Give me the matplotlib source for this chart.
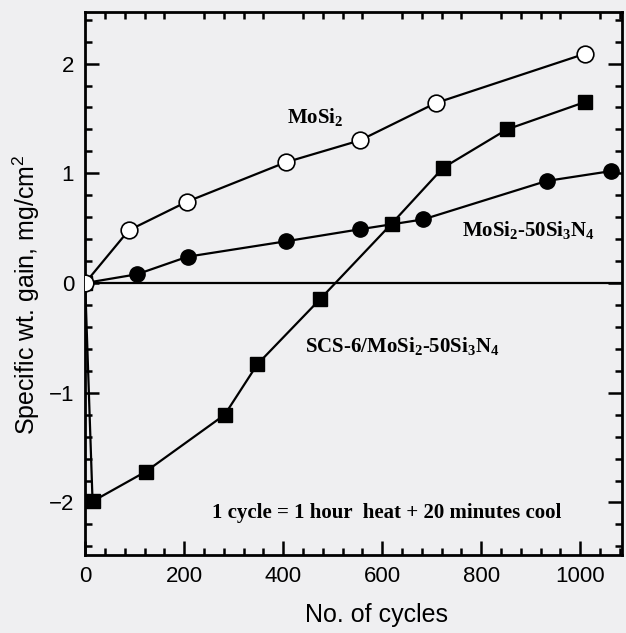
import matplotlib
matplotlib.use("Agg")
import matplotlib.pyplot as plt
from matplotlib.ticker import MultipleLocator

# values
mosi2_x = [0, 88, 205, 405, 555, 708, 1010]
mosi2_y = [0.0, 0.48, 0.74, 1.10, 1.30, 1.64, 2.09]

mosi2_sn_x = [0, 105, 207, 405, 555, 683, 932, 1062]
mosi2_sn_y = [0.0, 0.08, 0.24, 0.38, 0.49, 0.58, 0.93, 1.02]

scs6_x = [0, 15, 122, 282, 348, 474, 619, 723, 852, 1010]
scs6_y = [0.0, -1.99, -1.72, -1.20, -0.74, -0.15, 0.54, 1.05, 1.40, 1.65]

plt.rcParams['mathtext.default'] = 'regular'
bg = '#efeff1'

fig = plt.figure(figsize=(6.26, 6.33), dpi=100, facecolor=bg)
ax = fig.add_axes([0.136, 0.123, 0.858, 0.858], facecolor=bg)

ax.axhline(0, color='black', lw=1.6, zorder=1)

ax.plot(mosi2_sn_x, mosi2_sn_y, '-o', color='black', lw=1.6, ms=11,
        mfc='black', mec='black', zorder=3)
ax.plot(scs6_x, scs6_y, '-s', color='black', lw=1.6, ms=10,
        mfc='black', mec='black', zorder=3)
ax.plot(mosi2_x, mosi2_y, '-o', color='black', lw=1.6, ms=12,
        mfc='white', mec='black', mew=1.2, zorder=4)

ax.set_xlim(0, 1085)
ax.set_ylim(-2.48, 2.47)
ax.xaxis.set_major_locator(MultipleLocator(200))
ax.xaxis.set_minor_locator(MultipleLocator(40))
ax.yaxis.set_major_locator(MultipleLocator(1))
ax.yaxis.set_minor_locator(MultipleLocator(0.2))

for s in ax.spines.values():
    s.set_linewidth(2.0)

ax.tick_params(which='both', direction='in', right=True, top=True, width=1.8)
ax.tick_params(which='major', length=10, top=False)
ax.tick_params(which='minor', length=5)
ax.tick_params(axis='both', which='major', labelsize=16, pad=8)

for lab in ax.get_xticklabels() + ax.get_yticklabels():
    lab.set_fontfamily('Liberation Sans')

ax.set_xlabel('No. of cycles', family='Liberation Sans', fontsize=18)
ax.set_ylabel('Specific wt. gain, mg/cm$^2$', family='Liberation Sans',
              fontsize=18)
ax.xaxis.set_label_coords(0.542, -0.088)
ax.yaxis.set_label_coords(-0.081, 0.479)

serif = dict(family='Liberation Serif', weight='bold', fontsize=15,
             va='center', ha='left')
ax.text(407, 1.51, 'MoSi$_2$', **serif)
ax.text(762, 0.48, 'MoSi$_2$-50Si$_3$N$_4$', **serif)
ax.text(444, -0.57, 'SCS-6/MoSi$_2$-50Si$_3$N$_4$', **serif)
ax.text(256, -2.10, '1 cycle = 1 hour  heat + 20 minutes cool', **serif)

fig.savefig('out.png', dpi=100, facecolor=bg)
